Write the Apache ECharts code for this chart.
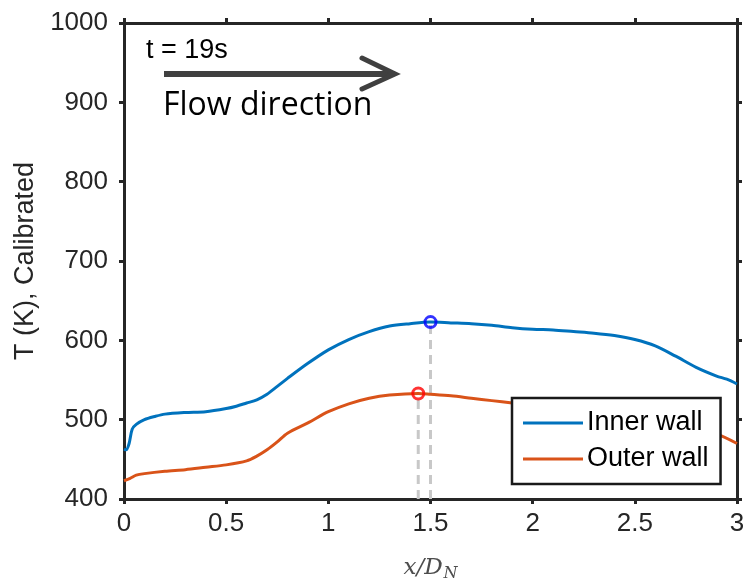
<!DOCTYPE html>
<html>
<head>
<meta charset="utf-8">
<script src="https://cdn.jsdelivr.net/npm/echarts@6/dist/echarts.min.js"></script>
<style>html,body{margin:0;padding:0;background:#fff}#c{width:743px;height:580px}</style>
</head>
<body>
<div id="c"></div>
<script>
// ---- data (x/D_N, T in K) ----
const innerWall = [[0,463],[0.01,462],[0.025,470],[0.04,488],[0.06,494],[0.1,500],[0.15,504],[0.2,507],[0.3,509],[0.4,510],[0.5,514],[0.55,517],[0.6,521],[0.65,525],[0.7,532],[0.75,542],[0.8,552],[0.9,571],[1.0,588],[1.1,601],[1.2,611],[1.3,618],[1.4,621],[1.5,623],[1.6,622],[1.7,621],[1.8,619],[1.9,616],[2.0,614],[2.1,613],[2.2,611],[2.3,609],[2.4,606],[2.5,601],[2.6,593],[2.7,580],[2.8,566],[2.9,555],[2.95,551],[3.0,545]];
const outerWall = [[0,423],[0.03,426],[0.06,430],[0.1,432],[0.2,435],[0.3,437],[0.4,440],[0.5,443],[0.6,448],[0.65,454],[0.7,462],[0.75,472],[0.8,483],[0.9,496],[1.0,510],[1.1,520],[1.2,527],[1.3,531],[1.44,533],[1.5,532],[1.6,530],[1.7,527],[1.8,524],[1.9,521],[2.0,518],[2.2,514],[2.4,508],[2.6,500],[2.8,489],[2.9,482],[3.0,470]];
const innerPeak = [1.5, 623];
const outerPeak = [1.44, 533];
const yBase = 400;
const seriesNames = ['Inner wall', 'Outer wall'];
const xTicks = [0, 0.5, 1, 1.5, 2, 2.5, 3];
const yTicks = [400, 500, 600, 700, 800, 900, 1000];

const axisColor = '#262626';
const tickFont = {fontFamily: 'Liberation Sans', fontSize: 26, color: axisColor};
function frameAxis(extra) {
  return Object.assign({
    type: 'value',
    axisLine: {show: true, onZero: false, lineStyle: {color: axisColor, width: 3}},
    axisTick: {show: true, inside: false, length: 5, lineStyle: {color: axisColor, width: 3}},
    splitLine: {show: false}
  }, extra);
}

const chart = echarts.init(document.getElementById('c'), null, {renderer: 'canvas'});
chart.setOption({
  backgroundColor: '#fff',
  animation: false,
  grid: {left: 124, right: 6, top: 23, bottom: 81, containLabel: false, outerBoundsMode: 'none'},
  xAxis: [
    frameAxis({min: xTicks[0], max: xTicks[xTicks.length-1], interval: 0.5, position: 'bottom',
      axisLabel: Object.assign({margin: 12, formatter: v => String(v)}, tickFont),
      name: '{i|x/D}{s|N}', nameLocation: 'middle', nameGap: 56,
      nameTextStyle: {rich: {
        i: {fontFamily: 'DejaVu Serif', fontStyle: 'italic', fontSize: 23, color: '#4d4d4d'},
        s: {fontFamily: 'DejaVu Serif', fontStyle: 'italic', fontSize: 16, color: '#4d4d4d', padding: [11,0,0,1]}
      }}
    }),
    frameAxis({min: 0, max: 3, interval: 0.5, position: 'top', axisLabel: {show: false}})
  ],
  yAxis: [
    frameAxis({min: yTicks[0], max: yTicks[yTicks.length-1], interval: 100, position: 'left',
      axisLabel: Object.assign({margin: 16, formatter: v => String(v)}, tickFont),
      name: 'T (K), Calibrated', nameLocation: 'middle', nameGap: 82, nameRotate: 90,
      nameTextStyle: {fontFamily: 'Liberation Sans', fontSize: 27, color: axisColor}
    }),
    frameAxis({min: 400, max: 1000, interval: 100, position: 'right', axisLabel: {show: false}})
  ],
  legend: {
    data: seriesNames.map(n => ({name: n, icon: 'rect'})),
    orient: 'vertical',
    left: 512, top: 398,
    itemWidth: 60, itemHeight: 3, itemGap: 6,
    padding: [10, 12, 10, 11],
    borderColor: '#1a1a1a', borderWidth: 2.5,
    backgroundColor: '#fff',
    textStyle: {fontFamily: 'Liberation Sans', fontSize: 27, color: '#000', lineHeight: 30, padding: [0,0,0,-1]},
    z: 20
  },
  series: [
    {type: 'line', name: 'Peak dash inner', data: [[innerPeak[0], yBase], innerPeak], symbol: 'none',
     lineStyle: {color: '#c8c8c8', width: 3, type: [9, 6]}, z: 1, silent: true},
    {type: 'line', name: 'Peak dash outer', data: [[outerPeak[0], yBase], outerPeak], symbol: 'none',
     lineStyle: {color: '#c8c8c8', width: 3, type: [9, 6]}, z: 1, silent: true},
    {type: 'line', name: seriesNames[0], data: innerWall, symbol: 'none', smooth: 0.3,
     lineStyle: {color: '#0072BD', width: 3}, itemStyle: {color: '#0072BD'}, z: 3},
    {type: 'line', name: seriesNames[1], data: outerWall, symbol: 'none', smooth: 0.3,
     lineStyle: {color: '#D95319', width: 3}, itemStyle: {color: '#D95319'}, z: 3},
    {type: 'scatter', name: 'Inner peak', data: [innerPeak], symbol: 'circle', symbolSize: 11,
     itemStyle: {color: 'rgba(255,255,255,0)', borderColor: '#0000FF', borderWidth: 3}, z: 5},
    {type: 'scatter', name: 'Outer peak', data: [outerPeak], symbol: 'circle', symbolSize: 11,
     itemStyle: {color: 'rgba(255,255,255,0)', borderColor: '#FF0000', borderWidth: 3}, z: 5}
  ],
  graphic: [
    {type: 'text', left: 146, top: 37, style: {text: 't = 19s', fontFamily: 'Liberation Sans', fontSize: 27, fill: '#000'}},
    {type: 'line', shape: {x1: 164, y1: 74, x2: 393, y2: 74}, style: {stroke: '#404040', lineWidth: 6}},
    {type: 'polyline', shape: {points: [[362, 58], [395, 74], [362, 89]]}, style: {stroke: '#404040', lineWidth: 5, fill: null, lineCap: 'round', lineJoin: 'miter'}},
    {type: 'text', left: 163, top: 90, style: {text: 'Flow direction', fontFamily: 'Open Sans', fontSize: 32, fill: '#000'}}
  ]
});
</script>
</body>
</html>
